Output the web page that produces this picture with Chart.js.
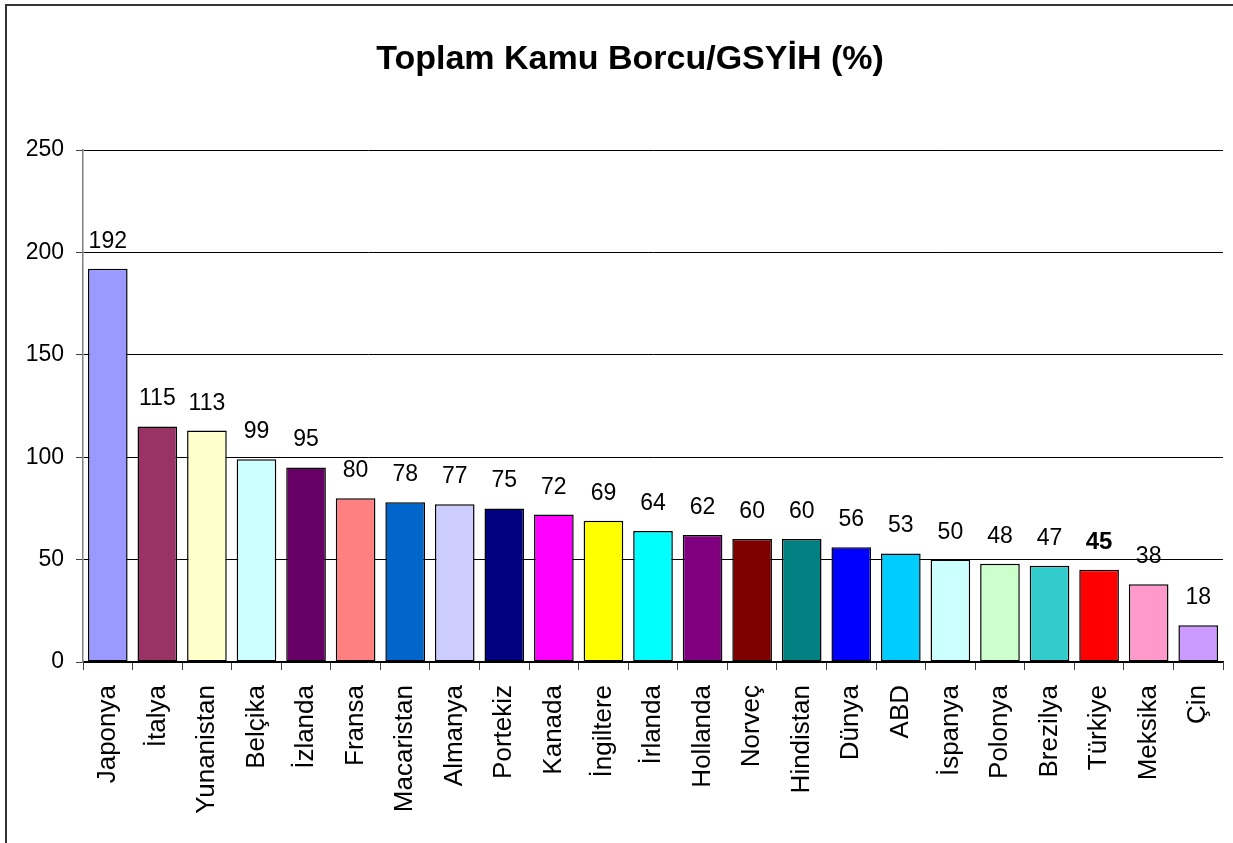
<!DOCTYPE html>
<html>
<head>
<meta charset="utf-8">
<script src="https://cdn.jsdelivr.net/npm/chart.js@4"></script>
<style>
  html, body { margin: 0; padding: 0; background: #fff; }
  canvas { display: block; }
</style>
</head>
<body>
<canvas id="chart" width="1233" height="843"></canvas>
<script>
const categories = ['Japonya', 'İtalya', 'Yunanistan', 'Belçika', 'İzlanda', 'Fransa', 'Macaristan',
  'Almanya', 'Portekiz', 'Kanada', 'İngiltere', 'İrlanda', 'Hollanda', 'Norveç', 'Hindistan',
  'Dünya', 'ABD', 'İspanya', 'Polonya', 'Brezilya', 'Türkiye', 'Meksika', 'Çin'];
const debtRatio = [192, 115, 113, 99, 95, 80, 78, 77, 75, 72, 69, 64, 62, 60, 60, 56, 53, 50, 48, 47, 45, 38, 18];
const barColors = ['#9999FF', '#993366', '#FFFFCC', '#CCFFFF', '#660066', '#FF8080', '#0066CC',
  '#CCCCFF', '#000080', '#FF00FF', '#FFFF00', '#00FFFF', '#800080', '#800000', '#008080',
  '#0000FF', '#00CCFF', '#CCFFFF', '#CCFFCC', '#33CCCC', '#FF0000', '#FF99CC', '#CC99FF'];
const yTicks = [0, 50, 100, 150, 200, 250];
const highlight = 'Türkiye';
const chartTitle = 'Toplam Kamu Borcu/GSYİH (%)';

const font = "'Liberation Sans', Arial, sans-serif";

// outer frame + title
const frame = {
  id: 'frame',
  beforeDraw(chart) {
    const ctx = chart.ctx;
    ctx.save();
    ctx.fillStyle = '#fff';
    ctx.fillRect(0, 0, chart.width, chart.height);
    ctx.strokeStyle = '#333';
    ctx.lineWidth = 2;
    ctx.strokeRect(6, 5, 1300, 900);
    ctx.fillStyle = '#000';
    ctx.font = 'bold 34px ' + font;
    ctx.textAlign = 'center';
    ctx.textBaseline = 'alphabetic';
    ctx.fillText(chartTitle, 630, 69);
    ctx.restore();
  }
};

// value labels above bars
const valueLabels = {
  id: 'valueLabels',
  afterDatasetsDraw(chart) {
    const ctx = chart.ctx;
    const meta = chart.getDatasetMeta(0);
    ctx.save();
    ctx.fillStyle = '#000';
    ctx.textAlign = 'center';
    ctx.textBaseline = 'alphabetic';
    meta.data.forEach((bar, i) => {
      const bold = categories[i] === highlight;
      ctx.font = (bold ? 'bold 24px ' : '23px ') + font;
      ctx.fillText(String(debtRatio[i]), bar.x, bar.y - 21);
    });
    ctx.restore();
  }
};

new Chart(document.getElementById('chart'), {
  type: 'bar',
  data: {
    labels: categories,
    datasets: [{
      data: debtRatio,
      backgroundColor: barColors,
      borderColor: '#000',
      borderWidth: 1.5,
      borderSkipped: false,
      barPercentage: 0.8,
      categoryPercentage: 1.0
    }]
  },
  options: {
    responsive: false,
    animation: false,
    devicePixelRatio: 1,
    layout: { padding: { left: 0, right: 10, top: 150, bottom: 0 } },
    plugins: {
      legend: { display: false },
      tooltip: { enabled: false },
      title: { display: false }
    },
    scales: {
      x: {
        afterFit: s => {
          s.height = 181;
          s.paddingLeft = 0;
          s.paddingRight = 0;
        },
        grid: {
          display: true,
          drawOnChartArea: false,
          drawTicks: true,
          tickLength: 8,
          offset: true,
          tickColor: '#404040'
        },
        border: { display: true, color: '#000', width: 1.5 },
        ticks: {
          autoSkip: false,
          minRotation: 90,
          maxRotation: 90,
          padding: 15,
          color: '#000',
          font: { family: font, size: 26 }
        }
      },
      y: {
        min: 0,
        max: 250,
        afterFit: s => {
          s.width = 83;
          s.paddingTop = 0;
          s.paddingBottom = 0;
        },
        afterBuildTicks: s => { s.ticks = yTicks.map(v => ({ value: v })); },
        grid: {
          color: '#000',
          lineWidth: 1,
          tickLength: 7,
          tickColor: '#404040'
        },
        border: { display: true, color: '#808080', width: 1.5 },
        ticks: {
          padding: 12,
          color: '#000',
          font: { family: font, size: 23 }
        }
      }
    }
  },
  plugins: [frame, valueLabels]
});
</script>
</body>
</html>
